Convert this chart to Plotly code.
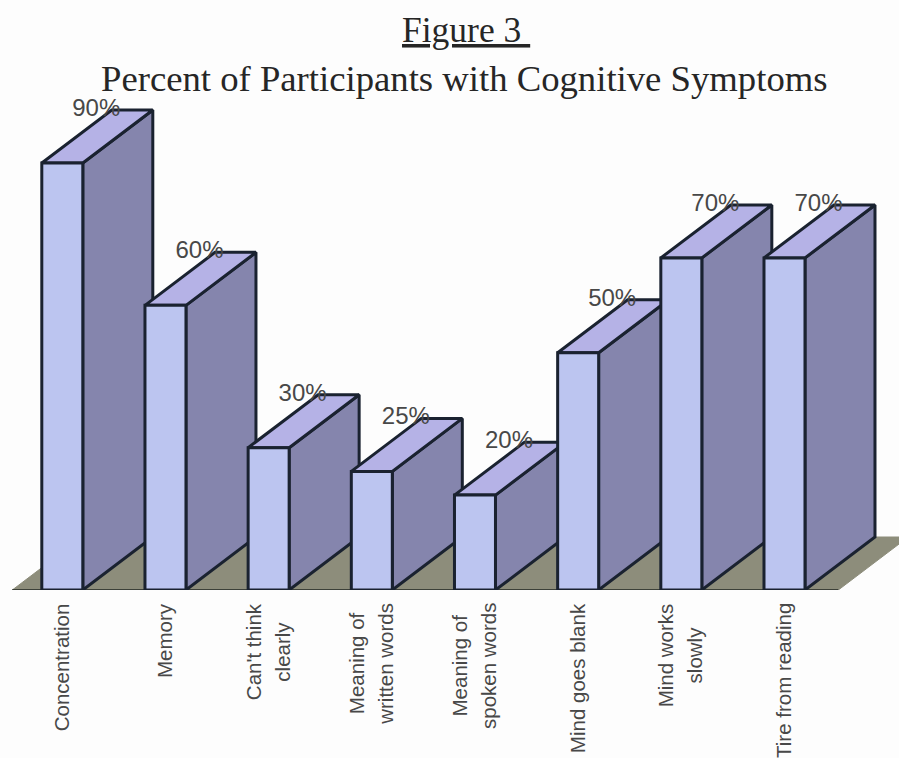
import plotly.graph_objects as go

# Survey results
categories = [
    "Concentration", "Memory", "Can't think<br>clearly", "Meaning of<br>written words",
    "Meaning of<br>spoken words", "Mind goes blank", "Mind works<br>slowly", "Tire from reading",
]
percent = [90, 60, 30, 25, 20, 50, 70, 70]

# Axis scale
px_per_unit_x = 103.17
px_per_unit_y = 4.744
first_center_px = 62.3
W, H, BASE_PX = 899, 758, 590

# Oblique projection of the columns, in axis units
half_width = 20.5 / px_per_unit_x
depth_x = 70 / px_per_unit_x
depth_y = 11.17
floor_left = -50 / px_per_unit_x
floor_right = 776 / px_per_unit_x

FRONT = "#bcc5f0"
SIDE = "#8585ad"
TOP = "#b5b2e6"
FLOOR = "#8d8d7b"
EDGE = "#1a2230"
TEXT = "#484848"
PAPER = "#fdfdfd"

LABEL_SIZE = 20.5
LABEL_LINE_BOX = 22.3  # sets the line pitch of the two-line category labels


def face(xs, ys, fill, edge=EDGE, width=3):
    return go.Scatter(
        x=xs + xs[:1], y=ys + ys[:1], mode="lines", fill="toself", fillcolor=fill,
        line=dict(color=edge, width=width), hoverinfo="skip", showlegend=False,
    )


fig = go.Figure()

# Floor plane with its dark front edge
fig.add_trace(face(
    [floor_left, floor_right, floor_right + depth_x, floor_left + depth_x],
    [0, 0, depth_y, depth_y], FLOOR, edge=FLOOR, width=1,
))
fig.add_trace(go.Scatter(
    x=[floor_left, floor_right], y=[0, 0], mode="lines",
    line=dict(color="#3c4038", width=2), hoverinfo="skip", showlegend=False,
))

# Columns painted left to right so each front hides its neighbour's side
for i, v in enumerate(percent):
    l, r = i - half_width, i + half_width
    fig.add_trace(face([r, r + depth_x, r + depth_x, r], [0, depth_y, v + depth_y, v], SIDE))
    fig.add_trace(face([l, r, r + depth_x, l + depth_x], [v, v, v + depth_y, v + depth_y], TOP))
    fig.add_trace(face([l, r, r, l], [0, 0, v, v], FRONT))

# Value labels sit on the back edge of each column top
fig.add_trace(go.Scatter(
    x=[i + 34 / px_per_unit_x for i in range(len(percent))],
    y=[v + depth_y for v in percent],
    mode="text", text=[f"{v}%" for v in percent], textposition="middle center",
    textfont=dict(family="Liberation Sans", size=24, color=TEXT),
    hoverinfo="skip", showlegend=False,
))


def sized(label):
    return "<br>".join(
        f'<span style="font-size:{LABEL_SIZE}px">{part}</span>' for part in label.split("<br>")
    )


# Rotated category labels under the floor
annotations = [
    dict(
        x=i, y=0, xref="x", yref="y", text=sized(c), textangle=-90, showarrow=False,
        xanchor="center", yanchor="top", yshift=-11, xshift=-1, align="center",
        font=dict(family="Liberation Sans", size=LABEL_LINE_BOX, color=TEXT),
    )
    for i, c in enumerate(categories)
]

# Two-line heading
annotations += [
    dict(
        x=466 / W, y=1 - 30 / BASE_PX, xref="paper", yref="paper",
        text="<u>Figure 3&nbsp;</u>", showarrow=False, xanchor="center", yanchor="middle",
        font=dict(family="Liberation Serif", size=35.5, color="#262626"),
    ),
    dict(
        x=464 / W, y=1 - 78 / BASE_PX, xref="paper", yref="paper",
        text="Percent of Participants with Cognitive Symptoms", showarrow=False,
        xanchor="center", yanchor="middle",
        font=dict(family="Liberation Serif", size=36.7, color="#262626"),
    ),
]

fig.update_layout(
    width=W, height=H,
    margin=dict(l=0, r=0, t=0, b=H - BASE_PX),
    paper_bgcolor=PAPER, plot_bgcolor=PAPER,
    showlegend=False,
    annotations=annotations,
    xaxis=dict(
        range=[-first_center_px / px_per_unit_x, (W - first_center_px) / px_per_unit_x],
        visible=False, fixedrange=True,
    ),
    yaxis=dict(range=[0, BASE_PX / px_per_unit_y], visible=False, fixedrange=True),
)

fig.write_html("out.html", config=dict(displayModeBar=False))
